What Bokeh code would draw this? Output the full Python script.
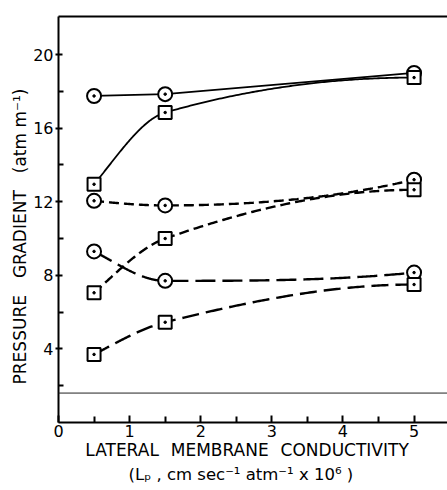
import numpy as np
from bokeh.plotting import figure
from bokeh.models import Range1d, FixedTicker, LinearAxis, Title, Span
from bokeh.embed import file_html
from bokeh.resources import INLINE

# ---- data ----
x_vals = [0.5, 1.5, 5.0]
circ_solid = [17.75, 17.85, 19.0]
sq_solid = [12.95, 16.85, 18.75]
circ_short = [12.05, 11.8, 13.2]
sq_short = [7.05, 10.0, 12.65]
circ_long = [9.3, 7.7, 8.15]
sq_long = [3.7, 5.45, 7.5]

x_major = [0, 1, 2, 3, 4, 5]
x_minor = [0.5, 1.5, 2.5, 3.5, 4.5]
y_major = [4, 8, 12, 16, 20]
y_minor = [2, 6, 10, 14, 18]
stray_line_y = 1.6

FONT = "DejaVu Sans"
EM = "\u2003"
GAP = "\u2002\u2009"


def pchip(xs, ys, n=120):
    """Monotone cubic Hermite curve through the given points (for display)."""
    xs = np.asarray(xs, float)
    ys = np.asarray(ys, float)
    h = np.diff(xs)
    d = np.diff(ys) / h
    m = np.zeros_like(ys)
    for k in range(1, len(xs) - 1):
        if d[k - 1] * d[k] <= 0:
            m[k] = 0.0
        else:
            w1 = 2 * h[k] + h[k - 1]
            w2 = h[k] + 2 * h[k - 1]
            m[k] = (w1 + w2) / (w1 / d[k - 1] + w2 / d[k])

    def end(h0, h1, d0, d1):
        v = ((2 * h0 + h1) * d0 - h0 * d1) / (h0 + h1)
        if np.sign(v) != np.sign(d0):
            v = 0.0
        elif np.sign(d0) != np.sign(d1) and abs(v) > abs(3 * d0):
            v = 3 * d0
        return v

    m[0] = end(h[0], h[1], d[0], d[1])
    m[-1] = end(h[-1], h[-2], d[-1], d[-2])
    out_x, out_y = [], []
    for k in range(len(xs) - 1):
        t = np.linspace(0, 1, n)
        h00 = 2 * t**3 - 3 * t**2 + 1
        h10 = t**3 - 2 * t**2 + t
        h01 = -2 * t**3 + 3 * t**2
        h11 = t**3 - t**2
        yy = h00 * ys[k] + h10 * h[k] * m[k] + h01 * ys[k + 1] + h11 * h[k] * m[k + 1]
        xx = xs[k] + t * h[k]
        out_x.extend(xx.tolist())
        out_y.extend(yy.tolist())
    return out_x, out_y


p = figure(width=447, height=490, output_backend="svg", toolbar_location=None,
           x_range=Range1d(0, 5.47), y_range=Range1d(0, 22.07),
           min_border_left=58, min_border_right=0, min_border_top=16,
           min_border_bottom=68)
p.outline_line_color = None
p.grid.visible = False
p.background_fill_color = "white"
p.border_fill_color = "white"

# axes
xa = p.xaxis[0]
xa.ticker = FixedTicker(ticks=x_major, minor_ticks=x_minor)
xa.axis_line_width = 2
xa.axis_line_color = "black"
xa.major_tick_in = 7
xa.major_tick_out = 0
xa.minor_tick_in = 6
xa.minor_tick_out = 0
xa.major_tick_line_width = 2
xa.minor_tick_line_width = 2
xa.major_tick_line_color = "black"
xa.minor_tick_line_color = "black"
xa.major_label_text_font = FONT
xa.major_label_text_font_size = "16px"
xa.major_label_text_color = "black"
xa.major_label_standoff = 2
xa.axis_label = "LATERAL" + GAP + "MEMBRANE" + GAP + "CONDUCTIVITY" + GAP
xa.axis_label_text_font = FONT
xa.axis_label_text_font_size = "17px"
xa.axis_label_text_font_style = "normal"
xa.axis_label_text_color = "black"
xa.axis_label_standoff = 0

ya = p.yaxis[0]
ya.ticker = FixedTicker(ticks=y_major, minor_ticks=y_minor)
ya.axis_line_width = 2
ya.axis_line_color = "black"
ya.major_tick_in = 4
ya.major_tick_out = 3
ya.minor_tick_in = 5
ya.minor_tick_out = 0
ya.major_tick_line_width = 2
ya.minor_tick_line_width = 2
ya.major_tick_line_color = "black"
ya.minor_tick_line_color = "black"
ya.major_label_text_font = FONT
ya.major_label_text_font_size = "16px"
ya.major_label_text_color = "black"
ya.major_label_standoff = 2
ya.axis_label = "PRESSURE" + EM + "GRADIENT" + EM + "(atm m⁻¹)" + EM + EM
ya.axis_label_text_font = FONT
ya.axis_label_text_font_size = "17px"
ya.axis_label_text_font_style = "normal"
ya.axis_label_text_color = "black"
ya.axis_label_standoff = 0

top = LinearAxis(ticker=FixedTicker(ticks=[]), axis_line_width=2,
                 axis_line_color="black",
                 major_label_text_font_size="0px", major_tick_in=0,
                 major_tick_out=0, minor_tick_in=0, minor_tick_out=0)
p.add_layout(top, "above")

p.add_layout(Title(text="(Lₚ , cm sec⁻¹ atm⁻¹ x 10⁶ )", align="left",
                   text_font=FONT, text_font_size="16.5px", text_color="black",
                   text_font_style="normal", standoff=0, offset=70), "below")

p.add_layout(Span(location=stray_line_y, dimension="width",
                  line_color="#222222", line_width=1))

# (values, marker, dash, width, smooth)
series = [
    (circ_solid, "circle", "solid", 1.8, False),
    (sq_solid, "square", "solid", 1.8, True),
    (circ_short, "circle", "10 5", 2.4, True),
    (sq_short, "square", "10 5", 2.4, True),
    (circ_long, "circle", "20 7", 2.4, True),
    (sq_long, "square", "17 7", 2.4, True),
]

for ys, mk, dash, lw, smooth in series:
    if smooth:
        cx, cy = pchip(x_vals, ys)
    else:
        cx, cy = x_vals, ys
    p.line(cx, cy, line_color="black", line_width=lw, line_dash=dash)

for ys, mk, dash, lw, smooth in series:
    size = 14 if mk == "circle" else 13
    p.scatter(x_vals, ys, marker=mk, size=size, fill_color="white",
              line_color="black", line_width=2)
    p.scatter(x_vals, ys, marker="circle", size=2.5, fill_color="black",
              line_color="black")

open("out.html", "w").write(file_html(p, INLINE))
